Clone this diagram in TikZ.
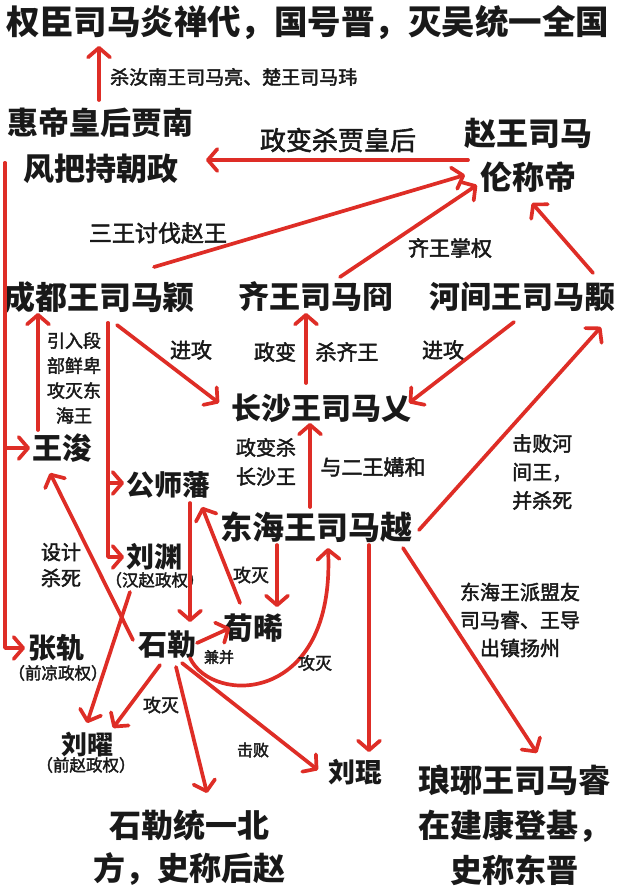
\documentclass[tikz,border=0pt]{standalone}
\usepackage{fontspec}
\setmainfont{Noto Sans CJK SC}
\newfontfamily\labf{Noto Sans CJK SC}[FakeBold=2.2]
\usetikzlibrary{arrows.meta,calc}
\definecolor{arrred}{RGB}{222,45,38}
\definecolor{ink}{RGB}{25,25,25}
\newcommand\fsz[2]{\fontsize{#1}{#2}\selectfont}
\newcommand\lf[2]{\labf\fontsize{#1}{#2}\selectfont}
\tikzset{
  arr/.style={draw=arrred, line width=3.7pt, line cap=round, line join=round,
    -{Straight Barb[length=9.5pt,width=22pt,round]}},
  big/.style={inner sep=0pt, text=ink, font=\bfseries\fsz{31}{46}, align=center},
  lab/.style={inner sep=0pt, text=ink, align=center},
}
\begin{document}
\begin{tikzpicture}[x=1pt,y=-1pt]
\useasboundingbox (0,0) rectangle (620,886);
% main nodes
\node[big, font=\bfseries\fsz{33.5}{40}] (T) at (308,23) {权臣司马炎禅代，国号晋，灭吴统一全国};
\node[big] (H) at (101,146) {惠帝皇后贾南\\风把持朝政};
\node[big, font=\bfseries\fsz{32}{44}] (Z) at (528,155) {赵王司马\\伦称帝};
\node[big, font=\bfseries\fsz{32}{40}] (C) at (99,297) {成都王司马颖};
\node[big] (Q) at (316,297) {齐王司马冏};
\node[big] (J) at (522,297) {河间王司马颙};
\node[big, font=\bfseries\fsz{30}{36}] (S) at (321,408) {长沙王司马乂};
\node[big, font=\bfseries\fsz{32}{40}] (D) at (316,527) {东海王司马越};
\node[big, font=\bfseries\fsz{30}{36}] (W) at (62,448) {王浚};
\node[big, font=\bfseries\fsz{28}{34}] (G) at (168,485) {公师藩};
\node[big, font=\bfseries\fsz{28}{34}] (Y) at (154,557) {刘渊};
\node[big, font=\bfseries\fsz{28}{34}] (K) at (56,648) {张轨};
\node[big, font=\bfseries\fsz{29}{34}] (L) at (167,645) {石勒};
\node[big, font=\bfseries\fsz{30}{36}] (X) at (253,628) {荀晞};
\node[big, font=\bfseries\fsz{26}{32}] (O) at (87,745) {刘曜};
\node[big, font=\bfseries\fsz{27}{32}] (N) at (355,772) {刘琨};
\node[big, font=\bfseries\fsz{32}{43}] (BL) at (189,848) {石勒统一北\\方，史称后赵};
\node[big, font=\bfseries\fsz{32}{45}] (BR) at (514,825) {琅琊王司马睿\\在建康登基，\\史称东晋};
% sub labels
\node[lab, font=\lf{16.5}{18}] (Ysub) at (155,580) {（汉赵政权）};
\node[lab, font=\lf{16.5}{18}] (Ksub) at (58,673) {（前凉政权）};
\node[lab, font=\lf{16.5}{18}] (Osub) at (86,765) {（前赵政权）};
% arrows
\draw[arr] ($(H)+(-2,-46)$) -- ($(T)+(-209,23)$);
\draw[arr] ($(Z)+(-60,5)$) -- ($(H)+(105,14)$);
\draw[arr] ($(C)+(55,-30)$) -- ($(Z)+(-63,20)$);
\draw[arr] ($(Q)+(24,-20)$) -- ($(Z)+(-51,30)$);
\draw[arr] ($(J)+(71,-24)$) -- ($(Z)+(4,48)$);
\draw[arr] ($(H)+(-96,17)$) |- ($(K)+(-31,0)$);
\draw[arr] ($(H)+(-96,17)$) |- ($(W)+(-32,0)$);
\draw[arr] ($(W)+(-24,-18)$) -- ($(C)+(-61,16)$);
\draw[arr] ($(C)+(9,26)$) |- ($(G)+(-44,-2)$);
\draw[arr] ($(C)+(9,26)$) |- ($(Y)+(-30,0)$);
\draw[arr] ($(C)+(18,28)$) -- ($(S)+(-102,-5)$);
\draw[arr] ($(S)+(-15,-25)$) -- ($(Q)+(-10,16)$);
\draw[arr] ($(J)+(-8,25)$) -- ($(S)+(88,-5)$);
\draw[arr] ($(D)+(-6,-20)$) -- ($(S)+(-11,15)$);
\draw[arr] ($(D)+(103,3)$) -- ($(J)+(79,30)$);
\draw[arr] ($(L)+(-34,-5)$) -- ($(W)+(-12,25)$);
\draw[arr] ($(G)+(22,18)$) -- ($(L)+(23,-23)$);
\draw[arr] ($(X)+(-13,-25)$) -- ($(G)+(34,22)$);
\draw[arr] ($(D)+(-39,18)$) -- ($(X)+(24,-21)$);
\draw[arr] ($(L)+(30,-2)$) -- ($(X)+(-23,0)$);
\draw[arr] ($(L)+(23,13)$) .. controls (212,705) and (335,705) .. ($(D)+(12,21)$);
\draw[arr] ($(Y)+(-24,35)$) -- ($(O)+(0,-22)$);
\draw[arr] ($(L)+(-7,20)$) -- ($(O)+(26,-17)$);
\draw[arr] ($(L)+(9,22)$) -- ($(BL)+(18,-55)$);
\draw[arr] ($(L)+(15,18)$) -- ($(N)+(-37,-2)$);
\draw[arr] ($(D)+(53,18)$) -- ($(N)+(14,-20)$);
\draw[arr] ($(D)+(87,21)$) -- ($(BR)+(23,-72)$);
% connector labels
\node[lab, font=\lf{19}{22}, anchor=west] (l1) at (110,77) {杀汝南王司马亮、楚王司马玮};
\node[lab, font=\lf{26}{30}] (l2) at (338,140) {政变杀贾皇后};
\node[lab, font=\lf{23}{28}] (l3) at (158,233) {三王讨伐赵王};
\node[lab, font=\lf{21}{26}] (l4) at (450,248) {齐王掌权};
\node[lab, font=\lf{18}{25}] (l5) at (74,378) {引入段\\部鲜卑\\攻灭东\\海王};
\node[lab, font=\lf{21}{26}] (l6) at (191,350) {进攻};
\node[lab, font=\lf{21}{26}] (l7) at (275,352) {政变};
\node[lab, font=\lf{21}{26}] (l8) at (347,352) {杀齐王};
\node[lab, font=\lf{21}{26}] (l9) at (443,350) {进攻};
\node[lab, font=\lf{20}{29}] (l10) at (266,462) {政变杀\\长沙王};
\node[lab, font=\lf{21}{26}] (l11) at (373,467) {与二王媾和};
\node[lab, font=\lf{20}{28.5}, align=left, anchor=west] (l12) at (512,472) {击败河\\间王，\\并杀死};
\node[lab, font=\lf{20}{26}] (l13) at (61,565) {设计\\杀死};
\node[lab, font=\lf{18}{22}] (l14) at (251,575) {攻灭};
\node[lab, font=\lf{15}{18}] (l15) at (219,657) {兼并};
\node[lab, font=\lf{17}{20}] (l16) at (315,663) {攻灭};
\node[lab, font=\lf{18}{22}] (l17) at (161,705) {攻灭};
\node[lab, font=\lf{16}{20}] (l18) at (253,750) {击败};
\node[lab, font=\lf{20}{28}] (l19) at (520,620) {东海王派盟友\\司马睿、王导\\出镇扬州};
\end{tikzpicture}
\end{document}
